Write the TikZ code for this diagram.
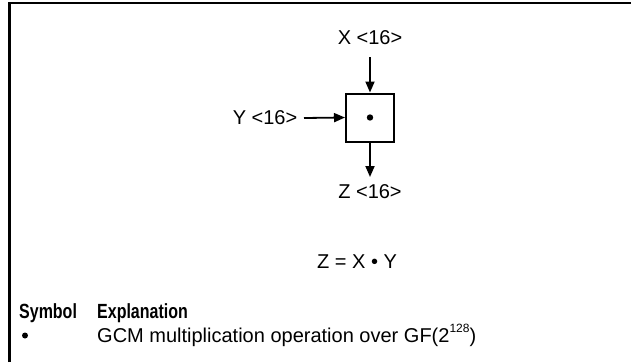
\documentclass[tikz,border=0pt]{standalone}
\usepackage{fontspec}
\setmainfont{Liberation Sans}
\newfontfamily\hdfont[FakeStretch=0.78]{Liberation Sans}
\usetikzlibrary{arrows.meta}
\newcommand{\supsm}[1]{\raisebox{0.5em}{\fontsize{12}{12}\selectfont #1}}
\begin{document}
\begin{tikzpicture}[x=1pt,y=-1pt,
  lbl/.style={inner sep=0pt,font=\fontsize{20}{23}\selectfont},
  hd/.style={inner sep=0pt,anchor=base west,font=\fontsize{20.5}{23}\selectfont\hdfont\bfseries},
  body/.style={inner sep=0pt,anchor=base west,font=\fontsize{20}{23}\selectfont},
  arr/.style={line width=1.8pt,-{Triangle[length=11pt,width=9pt]}},
  opbox/.style={draw,line width=2pt,minimum width=48pt,minimum height=48pt,inner sep=0pt}]
\useasboundingbox (0,0) rectangle (631,362);
\draw[line width=2.2pt] (9.5,362) -- (9.5,3) -- (631,3);
\node[opbox] (box) at (370,117.5) {};
\fill (box.center) circle (3.2pt);
\node[lbl] (x) at (370,38) {X <16>};
\node[lbl] (y) at (265,118) {Y <16>};
\node[lbl] (z) at (370,192) {Z <16>};
\coordinate (xs) at (370,57);
\coordinate (ys) at (304,118);
\coordinate (ze) at (370,177);
\draw[arr] (xs) -- (box.north);
\draw[arr] (ys) -- (box.west);
\draw[arr] (box.south) -- (ze);
\node[lbl] (eq) at (357,262) {Z = X \textbullet{} Y};
\node[hd] (sym) at (19,318) {Symbol};
\node[hd] (exp) at (97,318) {Explanation};
\coordinate (bul) at (25,335.5);
\fill (bul) circle (3pt);
\node[body] (gcm) at (97,342) {GCM multiplication operation over GF(2\supsm{128})};
\end{tikzpicture}
\end{document}
